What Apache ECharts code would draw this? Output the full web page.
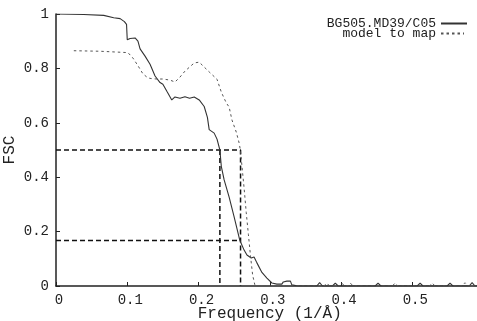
<!DOCTYPE html>
<html>
<head>
<meta charset="utf-8">
<script src="https://cdn.jsdelivr.net/npm/echarts@6/dist/echarts.min.js"></script>
<style>html,body{margin:0;padding:0;background:#fff}#c{width:477px;height:321px}</style>
</head>
<body>
<div id="c"></div>
<script>
var seriesNames = ['BG505.MD39/C05', 'model to map'];
var xTicks = [0, 0.1, 0.2, 0.3, 0.4, 0.5, 0.6];
var yTicks = [0, 0.2, 0.4, 0.6, 0.8, 1];

var fscMap = [
  [0,1.0],[0.039,0.998],[0.067,0.995],[0.081,0.986],[0.090,0.983],[0.096,0.972],[0.099,0.962],
  [0.1,0.905],[0.104,0.91],[0.111,0.912],[0.115,0.90],[0.118,0.872],[0.125,0.845],[0.132,0.815],
  [0.139,0.772],[0.146,0.748],[0.150,0.742],[0.156,0.714],[0.1625,0.684],[0.167,0.695],
  [0.174,0.690],[0.181,0.696],[0.1875,0.690],[0.194,0.695],[0.201,0.684],[0.208,0.660],
  [0.2125,0.620],[0.215,0.575],[0.222,0.562],[0.226,0.540],[0.23,0.50],[0.232,0.44],
  [0.236,0.39],[0.243,0.327],[0.25,0.254],[0.258,0.168],[0.264,0.132],[0.268,0.114],
  [0.274,0.103],[0.278,0.107],[0.282,0.085],[0.289,0.05],[0.296,0.029],[0.303,0.011],
  [0.31,0.007],[0.317,0.007],[0.319,0.015],[0.324,0.018],[0.329,0.018],[0.331,0.004],
  [0.34,0.0],[0.366,0.0],[0.370,0.012],[0.374,0.0],[0.388,0.0],[0.392,0.011],[0.396,0.0],
  [0.448,0.0],[0.452,0.011],[0.456,0.0],[0.507,0.0],[0.511,0.011],[0.515,0.0],
  [0.549,0.0],[0.553,0.011],[0.557,0.0],[0.580,0.0],[0.584,0.012],[0.588,0.0],[0.6,0.0]
];
var modelToMap = [
  [0.025,0.865],[0.0625,0.863],[0.101,0.858],[0.108,0.838],[0.115,0.81],[0.122,0.78],
  [0.129,0.765],[0.135,0.762],[0.142,0.761],[0.150,0.761],[0.160,0.757],[0.167,0.750],
  [0.174,0.768],[0.181,0.79],[0.1875,0.805],[0.194,0.82],[0.201,0.823],[0.208,0.805],
  [0.215,0.787],[0.226,0.76],[0.232,0.713],[0.239,0.673],[0.243,0.658],[0.247,0.61],
  [0.253,0.566],[0.257,0.526],[0.259,0.496],[0.261,0.44],[0.264,0.36],[0.267,0.27],
  [0.270,0.19],[0.273,0.11],[0.276,0.04],[0.279,0.005],[0.282,0.0],
  [0.376,0.0],[0.380,0.011],[0.384,0.0],[0.397,0.0],[0.401,0.011],[0.405,0.0],
  [0.409,0.0],[0.413,0.011],[0.417,0.0],[0.472,0.0],[0.476,0.011],[0.480,0.0],
  [0.524,0.0],[0.528,0.011],[0.532,0.0],[0.570,0.0],[0.574,0.012],[0.578,0.0],[0.6,0.0]
];
var refHigh = [[0,0.5],[0.259,0.5],[0.259,0]];
var refHighCross = [[0.23,0.5],[0.23,0]];
var refLow = [[0,0.167],[0.259,0.167]];

var mono = 'Liberation Mono, DejaVu Sans Mono, monospace';
var chart = echarts.init(document.getElementById('c'), null, {renderer: 'canvas'});
function refSeries(data) {
  return {type:'line', data:data, symbol:'none', silent:true, z:3,
    lineStyle:{color:'#111', width:1.5, type:[5,3]}};
}
var legendBase = {orient:'vertical', align:'right', itemHeight:10, itemGap:0, padding:0,
  itemStyle:{opacity:0}, textStyle:{fontFamily:mono, fontSize:13, color:'#222'}};
chart.setOption({
  animation:false,
  backgroundColor:'#fff',
  grid:{left:56, right:-6.5, top:14, bottom:35, containLabel:false, outerBoundsMode:'none'},
  legend:[
    Object.assign({}, legendBase, {data:[seriesNames[0]], right:9, top:17, itemWidth:26}),
    Object.assign({}, legendBase, {data:[seriesNames[1]], right:12, top:27, itemWidth:23})
  ],
  xAxis:{type:'value', min:xTicks[0], max:xTicks[xTicks.length-1], interval:0.1,
    name:'Frequency (1/Å)', nameLocation:'middle', nameGap:20, nameMoveOverlap:false,
    nameTextStyle:{fontFamily:mono, fontSize:16, color:'#222'},
    axisLine:{show:true, onZero:false, lineStyle:{color:'#222', width:1.5}},
    axisTick:{show:true, inside:true, length:4, lineStyle:{color:'#222'}},
    splitLine:{show:false},
    axisLabel:{fontFamily:mono, fontSize:14, color:'#222', margin:7, padding:[0,0,0,6],
      formatter:function(v){ return v < 0.55 ? String(Math.round(v*10)/10) : ''; }}
  },
  yAxis:{type:'value', min:yTicks[0], max:yTicks[yTicks.length-1], interval:0.2,
    name:'FSC', nameLocation:'middle', nameGap:38, nameRotate:90, nameMoveOverlap:false,
    nameTextStyle:{fontFamily:mono, fontSize:16, color:'#222'},
    axisLine:{show:true, onZero:false, lineStyle:{color:'#222', width:1.5}},
    axisTick:{show:true, inside:true, length:4, lineStyle:{color:'#222'}},
    splitLine:{show:false},
    axisLabel:{fontFamily:mono, fontSize:14, color:'#222', margin:7,
      formatter:function(v){ return String(Math.round(v*10)/10); }}
  },
  series:[
    {name:seriesNames[0], type:'line', data:fscMap, symbol:'none', z:4,
     lineStyle:{color:'#333', width:1.1}, itemStyle:{color:'#333'}},
    {name:seriesNames[1], type:'line', data:modelToMap, symbol:'none', z:4,
     lineStyle:{color:'#555', width:1, type:[2.5,3]}, itemStyle:{color:'#555'}},
    refSeries(refHigh), refSeries(refHighCross), refSeries(refLow)
  ]
});
</script>
</body>
</html>
